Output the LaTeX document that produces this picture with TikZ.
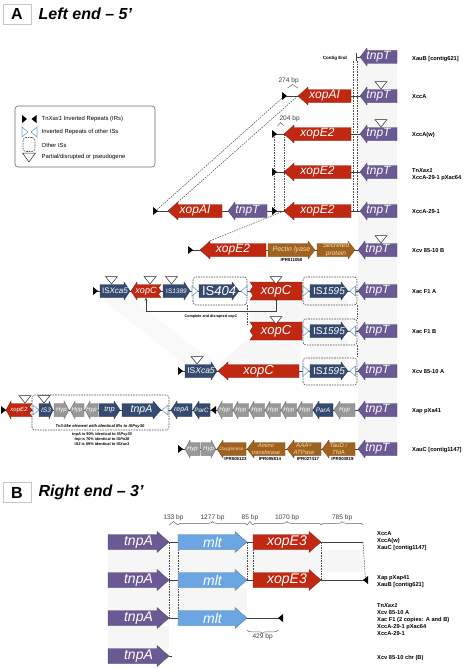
\documentclass[tikz,border=0pt]{standalone}
\usepackage{fontspec}
\setmainfont{Liberation Sans}
\usetikzlibrary{positioning,calc,decorations.pathreplacing,arrows.meta}

\definecolor{tnpcol}{RGB}{106,89,146}
\definecolor{xopcol}{RGB}{192,40,18}
\definecolor{iscol}{RGB}{52,74,110}
\definecolor{brcol}{RGB}{160,98,30}
\definecolor{hypcol}{RGB}{152,152,152}
\definecolor{mltcol}{RGB}{108,166,226}
\definecolor{ircol}{RGB}{122,160,200}
\definecolor{brtxt}{RGB}{243,222,175}

\pgfdeclarelayer{back}
\pgfdeclarelayer{bg}
\pgfsetlayers{back,bg,main}

\newcommand{\gfs}[1]{\fontsize{#1}{\dimexpr #1pt*6/5\relax}\selectfont}
\def\ghh{9}
\def\gbh{6.5}

% gene arrows: [head]{colour}{text style}{name}{x1}{x2}{y}{label}
\newcommand{\geneL}[8][7]{%
  \filldraw[gene=#2] (#5,#7) -- (#5+#1,#7-\ghh) -- (#5+#1,#7-\gbh) -- (#6,#7-\gbh)
    -- (#6,#7+\gbh) -- (#5+#1,#7+\gbh) -- (#5+#1,#7+\ghh) -- cycle;
  \node[gtext, #3, minimum width={(#6-#5)*1pt}] (#4) at ({(#5+#6)/2},#7) {#8};}
\newcommand{\geneR}[8][7]{%
  \filldraw[gene=#2] (#6,#7) -- (#6-#1,#7-\ghh) -- (#6-#1,#7-\gbh) -- (#5,#7-\gbh)
    -- (#5,#7+\gbh) -- (#6-#1,#7+\gbh) -- (#6-#1,#7+\ghh) -- cycle;
  \node[gtext, #3, minimum width={(#6-#5)*1pt}] (#4) at ({(#5+#6)/2},#7) {#8};}
% left arrow with broken tail
\newcommand{\geneLz}[8][7]{%
  \filldraw[gene=#2] (#5,#7) -- (#5+#1,#7-\ghh) -- (#5+#1,#7-\gbh) -- (#6,#7-\gbh)
    -- (#6-2.5,#7-\gbh/2) -- (#6,#7) -- (#6-2.5,#7+\gbh/2) -- (#6,#7+\gbh)
    -- (#5+#1,#7+\gbh) -- (#5+#1,#7+\ghh) -- cycle;
  \node[gtext, #3, minimum width={(#6-#5)*1pt}] (#4) at ({(#5+#6)/2},#7) {#8};}
% disrupted gene, broken head end
\newcommand{\geneC}[7]{%
  \filldraw[gene=#1] (#4,#6-\ghh) -- (#5,#6-\ghh) -- (#5,#6+\ghh) -- (#4,#6+\ghh)
    -- (#4+3,#6+\ghh/2) -- (#4,#6) -- (#4+3,#6-\ghh/2) -- cycle;
  \node[gtext, #2, minimum width={(#5-#4)*1pt}] (#3) at ({(#4+#5)/2},#6) {#7};}
% inverted repeats
\newcommand{\irR}[3]{\fill[black] (#2,#3-4) -- (#2+5,#3) -- (#2,#3+4) -- cycle;
  \coordinate (#1) at (#2+2.5,#3);}
\newcommand{\irL}[3]{\fill[black] (#2+5,#3-4) -- (#2,#3) -- (#2+5,#3+4) -- cycle;
  \coordinate (#1) at (#2+2.5,#3);}
\newcommand{\oirR}[2]{\filldraw[oir] (#1,#2-5) -- (#1+6,#2) -- (#1,#2+5) -- cycle;}
\newcommand{\oirL}[2]{\filldraw[oir] (#1+6,#2-5) -- (#1,#2) -- (#1+6,#2+5) -- cycle;}
% partial / pseudogene mark
\newcommand{\pseudo}[2][0]{%
  \filldraw[pseudo] ($(#2.center)+(#1-6,-14.5)$) -- ++(12,0) -- ($(#2.center)+(#1,-7)$) -- cycle;}

\begin{document}
\begin{tikzpicture}[x=1pt, y=-1pt,
    gene/.style={fill=#1, draw=#1!70!black, line width=0.3pt},
    gtext/.style={inner sep=0pt, minimum height={2*\gbh*1pt}, text=white, align=center},
    gf/.style={font=\gfs{#1}\itshape},
    oir/.style={fill=white, draw=ircol, line width=0.6pt},
    pseudo/.style={fill=white, draw=black!85, line width=0.5pt},
    isbox/.style={draw=black!70, dash pattern=on 1.6pt off 1pt, rounded corners=3pt, line width=0.6pt, inner sep=0pt},
    link/.style={draw=black!75, line width=0.6pt},
    guide/.style={draw=black!70, dash pattern=on 1.6pt off 1pt, line width=0.5pt},
    brc/.style={decorate, decoration={brace, amplitude=3.5pt}, draw=black!60, line width=0.5pt},
    bp/.style={font=\gfs{6.6}, text=black!75, inner sep=0.5pt},
    rowlbl/.style={font=\fontsize{5.7}{7}\selectfont\bfseries, anchor=west, align=left, inner sep=0pt},
    legtxt/.style={font=\gfs{5.9}, anchor=west, inner sep=0pt},
    ipr/.style={font=\gfs{4.4}\bfseries, inner sep=0pt},
    tiny/.style={font=\fontsize{3.9}{5}\selectfont\bfseries, inner sep=0pt, align=center},
    ttlbox/.style={draw=gray!45, line width=0.9pt, minimum width=28pt, minimum height=20pt, inner sep=0pt, font=\gfs{16}\bfseries},
    ttl/.style={font=\gfs{16}\bfseries\itshape, inner sep=0pt}
  ]
\useasboundingbox (0,0) rectangle (467,669);

% ---------- A ----------
\node[ttlbox] (tA) at (17,14) {A};
\node[ttl, right=7pt of tA] (ttA) {Left end – 5’};

% legend
\node[draw=black!60, rounded corners=3pt, line width=0.6pt, minimum width=140pt, minimum height=61pt] (leg) at (85,136.5) {};
\irR{lg1}{22}{119}
\irL{lg2}{31.5}{119}
\node[legtxt] (lt1) at (41.5,119) {Tn\textit{Xax1} Inverted Repeats (IRs)};
\oirR{22}{132}
\oirL{31}{132}
\node[legtxt] (lt2) at (41.5,132) {Inverted Repeats of other ISs};
\node[isbox, minimum width=12pt, minimum height=14pt] (lgbox) at (29,144.5) {};
\node[legtxt] (lt3) at (41.5,145) {Other ISs};
\filldraw[pseudo] (22.5,153) -- (35.5,153) -- (29,162) -- cycle;
\node[legtxt] (lt4) at (41.5,157) {Partial/disrupted or pseudogene};

% row 1
\geneL{tnpcol}{gf=12}{tnpT1}{360}{397}{57}{tnpT}
\coordinate (ce) at (356,57);
\draw[link] ($(ce)+(0,-4)$) -- ($(ce)+(0,4)$);
\node[tiny, font=\gfs{4.5}\bfseries, anchor=east] (cetxt) at ($(ce)+(-9,1)$) {Contig End};
\node[rowlbl] (l1) at (412,59) {XauB [contig621]};

% row 2
\irR{ir2}{282}{96}
\geneL[10]{xopcol}{gf=12}{xopAI2}{298}{351}{96}{xopAI}
\geneL{tnpcol}{gf=12}{tnpT2}{360}{397}{96}{tnpT}
\pseudo[2.5]{tnpT2}
\draw[brc] ($(ir2)+(3,-8)$) -- ($(xopAI2.west)+(0,-8)$) node[midway, above=3pt, bp, xshift=-4pt] {274 bp};
\node[rowlbl] (l2) at (412,97) {XccA};

% row 3
\irR{ir3}{272}{134}
\geneL[10]{xopcol}{gf=12}{xopE2r3}{284}{351}{134}{xopE2}
\geneL{tnpcol}{gf=12}{tnpT3}{360}{397}{134}{tnpT}
\pseudo[2.5]{tnpT3}
\draw[brc] ($(ir3)+(3,-8)$) -- ($(xopE2r3.west)+(0,-8)$) node[midway, above=3pt, bp, xshift=9pt] {204 bp};
\node[rowlbl] (l3) at (412,135) {XccA(w)};

% row 4
\irR{ir4}{272}{172}
\geneL[10]{xopcol}{gf=12}{xopE2r4}{284}{351}{172}{xopE2}
\geneL{tnpcol}{gf=12}{tnpT4}{360}{397}{172}{tnpT}
\node[rowlbl] (l4) at (412,175) {Tn\textit{Xax1}\\XccA-29-1 pXac64};

% row 5
\irR{ir5}{153}{211}
\geneL[10]{xopcol}{gf=12}{xopAI5}{168}{222}{211}{xopAI}
\geneL{tnpcol}{gf=12}{tnpT5a}{228}{267}{211}{tnpT}
\irR{ir5b}{272}{211}
\geneL[10]{xopcol}{gf=12}{xopE2r5}{284}{351}{211}{xopE2}
\geneL{tnpcol}{gf=12}{tnpT5}{360}{397}{211}{tnpT}
\node[rowlbl] (l5) at (412,212) {XccA-29-1};

% row 6
\irR{ir6}{188}{250}
\geneL[10]{xopcol}{gf=12}{xopE2r6}{200}{266}{250}{xopE2}
\geneR{brcol}{gf=7, text=brtxt}{pect}{268}{315}{250}{Pectin lyase}
\geneR{brcol}{gf=6.6, text=brtxt}{secr}{317}{355}{250}{Secreted\\protein}
\geneL{tnpcol}{gf=12}{tnpT6}{358}{397}{250}{tnpT}
\pseudo[3.5]{tnpT6}
\node[ipr, below=1.5pt of pect] (ipr1) {IPR011050};
\node[rowlbl] (l6) at (412,251) {Xcv 85-10 B};

% row 7
\node[isbox, minimum width=54pt, minimum height=28pt] (box7a) at (220,291) {};
\node[isbox, minimum width=54pt, minimum height=28pt] (box7b) at (330,291) {};
\irR{ir7}{93}{291}
\geneR[6]{iscol}{gf=8}{ISXca5r7}{100}{130}{291}{\textup{IS}Xca5}
\geneLz[6]{xopcol}{gf=9}{xopCs7}{131}{161}{291}{xopC}
\geneR[6]{iscol}{gf=6.5}{IS1389}{163}{190}{291}{\textup{IS}1389}
\oirR{192}{291}
\geneR{iscol}{gf=13}{IS404}{199}{239}{291}{\textup{IS}404}
\oirL{241}{291}
\geneC{xopcol}{gf=13}{xopC7}{250}{302}{291}{xopC}
\oirR{303}{291}
\geneR{iscol}{gf=10}{IS1595r7}{310}{348}{291}{\textup{IS}1595}
\oirL{349.5}{291}
\geneL{tnpcol}{gf=12}{tnpT7}{358}{397}{291}{tnpT}
\pseudo[-3.5]{ISXca5r7}
\pseudo[4]{xopCs7}
\pseudo[-5]{IS1389}
\pseudo{xopC7}
\draw[link, {Stealth[length=3pt,width=2.6pt]}-{Stealth[length=3pt,width=2.6pt]}]
  (xopCs7.south) -- ++(0,14) -| (xopC7.south);
\node[tiny, font=\fontsize{3.7}{4}\selectfont\bfseries] (cdx) at ($(xopCs7.south)!0.5!(xopC7.south)+(0,18.5)$) {Complete and disrupted \textit{xopC}};
\node[rowlbl] (l7) at (412,292) {Xac F1 A};

% row 8
\node[isbox, minimum width=54pt, minimum height=26pt] (box8) at (330,332) {};
\geneC{xopcol}{gf=13}{xopC8}{250}{302}{331}{xopC}
\pseudo{xopC8}
\oirR{303}{331}
\geneR{iscol}{gf=10}{IS1595r8}{310}{348}{331}{\textup{IS}1595}
\oirL{349.5}{331}
\geneL{tnpcol}{gf=12}{tnpT8}{358}{397}{331}{tnpT}
\node[rowlbl] (l8) at (412,332) {Xac F1 B};

% row 9
\node[isbox, minimum width=54pt, minimum height=27pt] (box9) at (330,371.5) {};
\irR{ir9}{178}{371}
\geneR[6]{iscol}{gf=8.5}{ISXca5r9}{185}{217}{371}{\textup{IS}Xca5}
\pseudo[-4]{ISXca5r9}
\geneL[10]{xopcol}{gf=13}{xopC9}{218}{299}{371}{xopC}
\oirR{303}{371}
\geneR{iscol}{gf=10}{IS1595r9}{310}{348}{371}{\textup{IS}1595}
\oirL{349.5}{371}
\geneL{tnpcol}{gf=12}{tnpT9}{358}{397}{371}{tnpT}
\node[rowlbl] (l9) at (412,372) {Xcv 85-10 A};

% row 10
\node[isbox, minimum width=137pt, minimum height=35pt] (box10) at (100.5,412.5) {};
\irR{ir10}{1}{410}
\geneLz[5]{xopcol}{gf=6}{xopE2r10}{6}{32}{410}{xopE2}
\oirR{33}{410}
\geneR[4]{iscol}{gf=6.5}{IS3}{39}{53}{410}{IS3}
\geneR[5]{hypcol}{gf=6}{hb1}{54}{69}{410}{Hyp}
\geneL[5]{hypcol}{gf=6}{hb2}{70}{84}{410}{Hyp}
\geneL[5]{hypcol}{gf=6}{hb3}{85}{98}{410}{Hyp}
\geneR[6]{iscol}{gf=7.5}{tnp}{99}{120}{410}{tnp}
\geneR[8]{iscol}{gf=10.5}{tnpA10}{122}{161}{410}{tnpA}
\oirL{162}{410}
\geneL[6]{iscol}{gf=7}{repA}{171}{192}{410}{repA}
\geneL[6]{iscol}{gf=6.3}{parC}{193}{210}{410}{ParC}
\irL{ir10b}{211}{410}
\foreach \x [count=\i] in {217,233,249,265,281,297}
  {\geneL[5]{hypcol}{gf=6}{hp\i}{\x}{\x+15.5}{410}{Hyp}}
\geneL[6]{iscol}{gf=6.5}{parA}{313}{333}{410}{ParA}
\geneL[6]{hypcol}{gf=6}{hp7}{334}{355}{410}{Hyp}
\geneL{tnpcol}{gf=12}{tnpT10}{358}{397}{410}{tnpT}
\pseudo[6]{xopE2r10}
\pseudo[-2]{IS3}
\node[tiny, font=\gfs{4.1}\bfseries\itshape] (tn3) at (100,426.5) {Tn3-like element with identical IRs to ISPsy30};
\node[tiny] (idn) at (102,439) {\textit{tnpA} is 90\% identical to IS\textit{Psy30}\\
  \textit{tnp} is 70\% identical to IS\textit{Pa38}\\IS\textit{3} is 89\% identical to IS\textit{Xac3}};
\node[rowlbl] (l10) at (412,411) {Xap pXa41};

% row 11
\irR{ir11}{178}{449}
\geneL[5]{hypcol}{gf=6}{hx1}{185}{200}{449}{Hyp}
\geneR[5]{hypcol}{gf=6}{hx2}{201}{216}{449}{Hyp}
\geneL[6]{brcol}{gf=4.8, text=brtxt}{oxy}{217}{246}{449}{Oxygenase}
\geneL[7]{brcol}{gf=5.6, text=brtxt}{amino}{247}{285}{449}{Amino\\transferase}
\geneL[7]{brcol}{gf=6, text=brtxt}{aaa}{287}{321}{449}{AAA+\\ATPase}
\geneL[7]{brcol}{gf=6, text=brtxt}{taud}{322}{355}{449}{TauD /\\TfdA}
\geneL{tnpcol}{gf=12}{tnpT11}{358}{397}{449}{tnpT}
\node[ipr, below=1.5pt of oxy, xshift=4pt] (ipr2) {IPR005123};
\node[ipr, below=1.5pt of amino, xshift=4pt] (ipr3) {IPR005814};
\node[ipr, below=1.5pt of aaa, xshift=4pt] (ipr4) {IPR027417};
\node[ipr, below=1.5pt of taud, xshift=4pt] (ipr5) {IPR003819};
\node[rowlbl] (l11) at (412,450) {XauC [contig1147]};

% ---------- B ----------
\def\ghh{10.5}
\def\gbh{7.5}
\node[ttlbox] (tB) at (17,492.5) {B};
\node[ttl, right=7pt of tB] (ttB) {Right end – 3’};

\geneR[12]{tnpcol}{gf=14}{tnpAb1}{108}{169}{542}{tnpA}
\geneR[12]{mltcol}{gf=14}{mltb1}{178}{247}{542}{mlt}
\geneR[12]{xopcol}{gf=14}{xopE3b1}{253}{321}{542}{xopE3}
\coordinate (eb1) at (363,542);
\node[rowlbl] (lb1) at (377,541) {XccA\\XccA(w)\\XauC [contig1147]};

\geneR[12]{tnpcol}{gf=14}{tnpAb2}{108}{169}{580}{tnpA}
\geneR[12]{mltcol}{gf=14}{mltb2}{178}{247}{580}{mlt}
\geneR[12]{xopcol}{gf=14}{xopE3b2}{253}{321}{580}{xopE3}
\irL{irb2}{363}{580}
\node[rowlbl] (lb2) at (377,581.5) {Xap pXap41\\XauB [contig621]};

\geneR[12]{tnpcol}{gf=14}{tnpAb3}{108}{169}{618}{tnpA}
\geneR[12]{mltcol}{gf=14}{mltb3}{178}{247}{618}{mlt}
\irL{irb3}{278}{618}
\node[rowlbl] (lb3) at (377,620) {Tn\textit{Xax1}\\Xcv 85-10 A\\Xac F1 (2 copies: A and B)\\XccA-29-1 pXac64\\XccA-29-1};

\geneR[12]{tnpcol}{gf=14}{tnpAb4}{108}{169}{656}{tnpA}
\coordinate (eb4) at (172,656);
\node[rowlbl] (lb4) at (377,658) {Xcv 85-10 chr (B)};

\coordinate (bb) at (0,525);
\draw[brc] (tnpAb1.east |- bb) -- (mltb1.west |- bb) node[midway, above=3pt, bp] {133 bp};
\draw[brc] (mltb1.west |- bb) -- (mltb1.east |- bb) node[midway, above=3pt, bp] {1277 bp};
\draw[brc] (mltb1.east |- bb) -- (xopE3b1.west |- bb) node[midway, above=3pt, bp] {85 bp};
\draw[brc] (xopE3b1.west |- bb) -- (xopE3b1.east |- bb) node[midway, above=3pt, bp] {1070 bp};
\draw[brc] (xopE3b1.east |- bb) -- (eb1 |- bb) node[midway, above=3pt, bp] {785 bp};
\draw[brc] ($(irb3)+(-2.5,12)$) -- ($(mltb3.east)+(0,12)$) node[midway, below=3pt, bp] {429 bp};

% ---------- connectors ----------
\begin{pgfonlayer}{bg}
\draw[link] (ce) -- (tnpT1);
\draw[link] (ir2) -- (tnpT2);
\draw[link] (ir3) -- (tnpT3);
\draw[link] (ir4) -- (tnpT4);
\draw[link] (ir5) -- (tnpT5);
\draw[link] (ir6) -- (tnpT6);
\draw[link] (ir7) -- (tnpT7);
\draw[link] (xopC8) -- (tnpT8);
\draw[link] (ir9) -- (tnpT9);
\draw[link] (ir10) -- (tnpT10);
\draw[link] (ir11) -- (tnpT11);
\draw[link] (tnpAb1) -- (eb1);
\draw[link] (tnpAb2) -- (irb2);
\draw[link] (tnpAb3) -- (irb3);
\draw[link] (tnpAb4) -- (eb4);
% homology guides
\coordinate (gl) at ($(ce)+(-3,4)$);
\coordinate (gr) at ($(ce)+(1,4)$);
\draw[guide] (gl) -- (gl |- ir5);
\draw[guide] (gr) -- (gr |- ir5);
\draw[guide] (ir3) -- (ir5b);
\draw[guide] (xopE2r3.west) -- (xopE2r5.west);
\draw[guide] (ir2) -- (ir5);
\draw[guide] (xopAI2.west) -- (xopAI5.west);
\draw[guide] (xopE2r5.west) -- ($(xopE2r6.west)+(10,-9)$);
\draw[guide] (box7a.south east) -- (box7a.south east |- xopC8.north west);
\draw[guide] (box7b.south east) -- (box8.north east);
\draw[guide] (box8.south east) -- (box9.north east);
\draw[guide] (tnpAb1.east) -- (tnpAb3.east);
\draw[guide] (mltb1.west) -- (mltb3.west);
\draw[guide] (mltb1.east) -- (mltb2.east);
\draw[guide] (xopE3b1.west) -- (xopE3b2.west);
\draw[guide] (xopE3b1.east) -- (xopE3b2.east);
\draw[guide] (eb1) -- (irb2);
\end{pgfonlayer}

% ---------- shading ----------
\begin{pgfonlayer}{back}
\fill[gray!7] ($(tnpT1.west)+(-2,0)$) rectangle (tnpT11.east);
\fill[gray!5] (ISXca5r7.south west) -- (ISXca5r7.south east) -- (ISXca5r9.north east) -- (ISXca5r9.north west) -- cycle;
\fill[gray!6] (xopC7.south west) rectangle (IS1595r8.north east);
\fill[gray!6] (xopC8.south west) -- (xopC8.south east) -- (xopC9.north east) -- (xopC9.north west) -- cycle;
\fill[gray!6] (IS1595r8.south west) rectangle (IS1595r9.north east);
\fill[gray!7] (tnpAb1.south west) rectangle (eb1 |- tnpAb2.north);
\fill[gray!7] (tnpAb2.south west) rectangle (mltb3.north east);
\fill[gray!7] (tnpAb3.south west) rectangle (tnpAb4.north east);
\end{pgfonlayer}
\end{tikzpicture}
\end{document}
